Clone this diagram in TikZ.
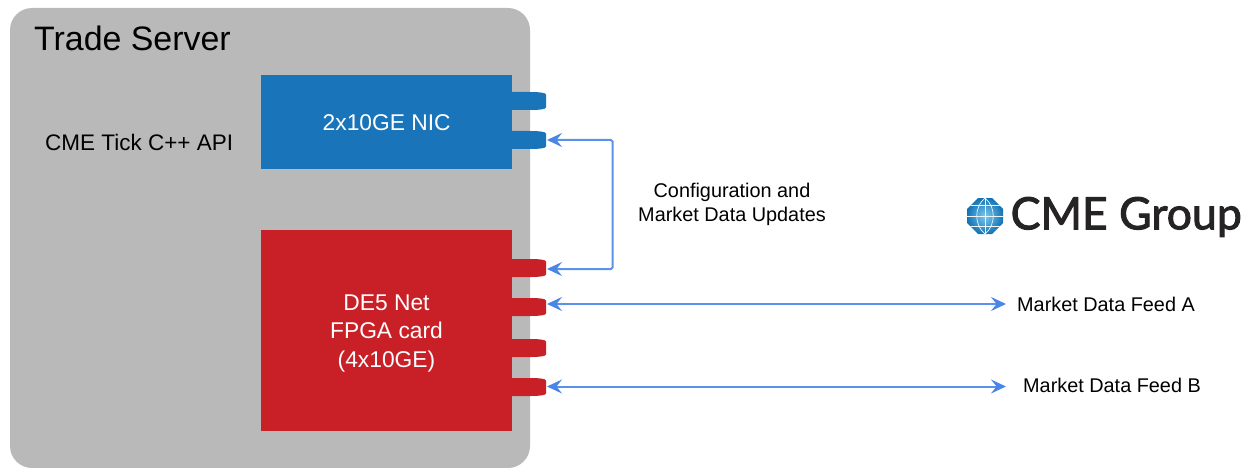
\documentclass[tikz,border=0pt]{standalone}
\usepackage{fontspec}
\setmainfont{Liberation Sans}
\newfontfamily\logofont[RawFeature={embolden=2.2}]{Lato}
\usetikzlibrary{arrows.meta}
\definecolor{srvgray}{HTML}{B9B9B9}
\definecolor{nicblue}{HTML}{1A74B9}
\definecolor{fpgared}{HTML}{C92027}
\definecolor{linkblue}{HTML}{5A91EA}
\definecolor{tipblue}{HTML}{4A86E8}
\definecolor{logoink}{HTML}{262324}
\definecolor{globedark}{HTML}{0A6BAE}
\definecolor{globelight}{HTML}{7CC8F0}
\tikzset{
  card/.style={inner sep=0pt,text=white,align=center,font=\fontsize{22.8}{28.5}\selectfont,anchor=north west},
  lbl/.style={inner sep=0pt,align=center,text=black},
  small/.style={lbl,font=\fontsize{19.85}{24.5}\selectfont},
  link/.style={draw=linkblue,line width=2pt,{Stealth[length=15pt,width=14pt,inset=5.5pt,color=tipblue]}-{Stealth[length=15pt,width=14pt,inset=5.5pt,color=tipblue]}},
  anchorpt/.style={coordinate}
}
% \porttab{name}{top y}{colour}{arrow y}
\newcommand{\porttab}[4]{%
  \fill[#3] (511,#2) -- (530,#2) .. controls (538,#2) and (546,#2+0.6) .. (546,#2+2.5)
    -- (546,#2+15.5) .. controls (546,#2+17.4) and (538,#2+18) .. (530,#2+18) -- (511,#2+18) -- cycle;
  \node[anchorpt] (#1) at (547,#4) {};
}
\begin{document}
\begin{tikzpicture}[x=1pt,y=-1pt]
\useasboundingbox (0,0) rectangle (1250,468);
% server body
\fill[srvgray,rounded corners=22pt] (10,8) rectangle (530,468);
\node[lbl,anchor=west,font=\fontsize{33.9}{40}\selectfont] (title) at (34,38) {Trade Server};
\node[lbl,anchor=west,font=\fontsize{22.5}{28}\selectfont] (api) at (45,142) {CME Tick C++ API};
% ports
\porttab{nicA}{92}{nicblue}{101}
\porttab{nicB}{131}{nicblue}{140}
\porttab{fpgaA}{259}{fpgared}{269}
\porttab{fpgaB}{298}{fpgared}{304}
\porttab{fpgaC}{339}{fpgared}{348}
\porttab{fpgaD}{378}{fpgared}{386.5}
% cards
\node[card,fill=nicblue,minimum width=251pt,minimum height=94pt] (nic) at (261,75) {2x10GE NIC};
\node[card,fill=fpgared,minimum width=251pt,minimum height=201pt] (fpga) at (261,230) {};
\node[card,anchor=center] (fpgatext) at (386.5,333.5) {DE5 Net\\FPGA card\\(4x10GE)};
% links
\node[anchorpt] (bendT) at (612.5,140) {};
\node[anchorpt] (bendB) at (612.5,269) {};
\node[small,anchor=north] (cfg) at (732,182.5) {Configuration and\\Market Data Updates};
\node[small,anchor=west] (feedA) at (1017,304.5) {Market Data Feed A};
\node[small,anchor=west] (feedB) at (1023,385) {Market Data Feed B};
\node[anchorpt] (endA) at (1006,304) {};
\node[anchorpt] (endB) at (1006,386.5) {};
\draw[link,rounded corners=1.5pt] (nicB) -- (bendT) -- (bendB) -- (fpgaA);
\draw[link] (fpgaB) -- (endA);
\draw[link] (fpgaD) -- (endB);
% logo
\begin{scope}
\path[clip] (978,198) -- (992,198) -- (1003,209) -- (1003,223) -- (992,234) -- (978,234) -- (967,223) -- (967,209) -- cycle;
\shade[inner color=globelight,outer color=globedark] (985,216) circle (20);
\draw[white!85!globelight,line width=0.7pt] (965,205.5) -- (1005,205.5) (965,216) -- (1005,216) (965,226.5) -- (1005,226.5)
  (985,196) -- (985,236);
\draw[white!85!globelight,line width=0.7pt] (985,198) .. controls (974,207) and (974,225) .. (985,234)
  (985,198) .. controls (996,207) and (996,225) .. (985,234);
\end{scope}
\node[lbl,anchor=west,text=logoink,font=\logofont\fontsize{44.6}{50}\selectfont] (logo) at (1010.5,217) {CME Group};
\end{tikzpicture}
\end{document}
